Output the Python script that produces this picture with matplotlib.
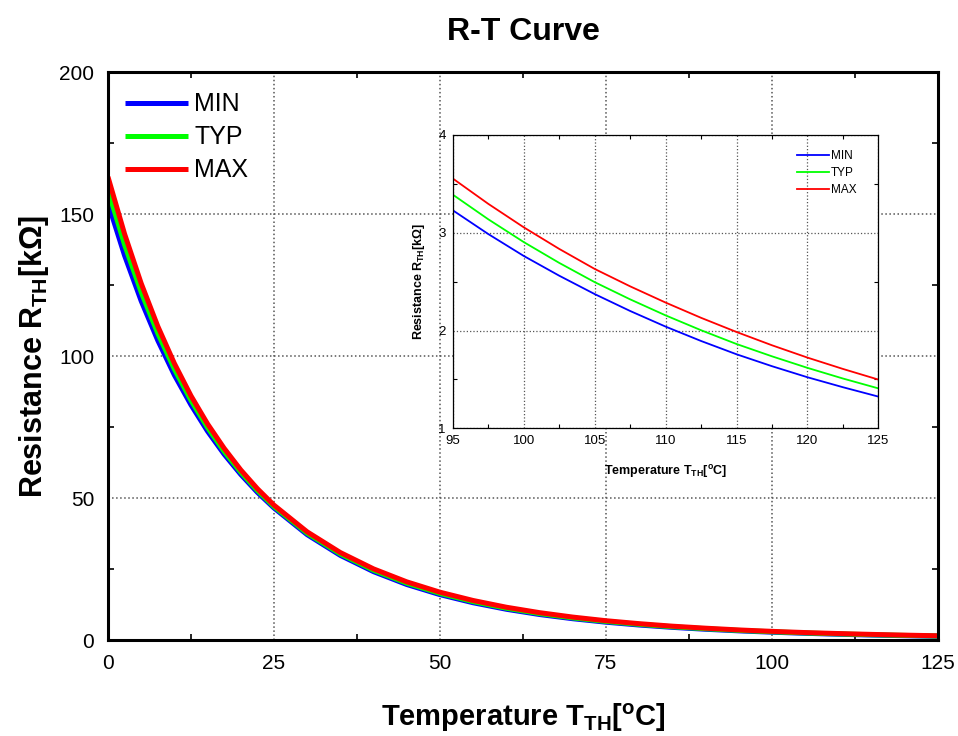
import numpy as np
import matplotlib
matplotlib.use("Agg")
import matplotlib.pyplot as plt
from matplotlib.ticker import MultipleLocator

plt.rcParams['font.family'] = ['Liberation Sans', 'DejaVu Sans']
plt.rcParams['mathtext.fontset'] = 'custom'
plt.rcParams['mathtext.rm'] = 'Liberation Sans:bold'
plt.rcParams['mathtext.bf'] = 'Liberation Sans:bold'
plt.rcParams['mathtext.it'] = 'Liberation Sans:bold'

# temperature [degC] and resistance [kOhm]
temp = [0, 2.5, 5, 7.5, 10, 12.5, 15, 17.5, 20, 22.5, 25, 30, 35, 40, 45, 50,
        55, 60, 65, 70, 75, 80, 85, 90, 95, 97.5, 100, 102.5, 105, 107.5,
        110, 112.5, 115, 117.5, 120, 122.5, 125]
r_min = [153.9, 135.4, 119.4, 105.5, 93.3, 82.8, 73.5, 65.4, 58.3, 52.0, 46.5,
         37.1, 29.8, 24.07, 19.55, 15.98, 13.12, 10.83, 8.98, 7.50, 6.28, 5.28,
         4.46, 3.79, 3.23, 2.987, 2.763, 2.561, 2.373, 2.200, 2.040, 1.893,
         1.757, 1.635, 1.522, 1.420, 1.324]
r_typ = [158.5, 139.2, 122.5, 108.0, 95.4, 84.4, 74.8, 66.4, 59.1, 52.65, 47.0,
         37.6, 30.3, 24.56, 20.02, 16.41, 13.52, 11.19, 9.31, 7.79, 6.54, 5.52,
         4.67, 3.98, 3.39, 3.138, 2.905, 2.692, 2.495, 2.319, 2.155, 2.003,
         1.862, 1.736, 1.618, 1.509, 1.408]
r_max = [163.1, 143.0, 125.6, 110.5, 97.4, 86.0, 76.1, 67.5, 59.9, 53.3, 47.5,
         38.1, 30.8, 25.05, 20.49, 16.84, 13.92, 11.55, 9.64, 8.08, 6.80, 5.76,
         4.88, 4.17, 3.555, 3.296, 3.056, 2.835, 2.630, 2.452, 2.286, 2.130,
         1.985, 1.849, 1.723, 1.607, 1.498]

labels = ['MIN', 'TYP', 'MAX']
colors = ['#0000ff', '#00ff00', '#ff0000']
series = [r_min, r_typ, r_max]

fig = plt.figure(figsize=(9.58, 7.36), dpi=100)

ax = fig.add_axes([0.1127, 0.1304, 0.8664, 0.7717])
for s, c, l in zip(series, colors, labels):
    ax.plot(temp, s, color=c, lw=3.6, label=l, solid_capstyle='butt',
            solid_joinstyle='round')
ax.set_xlim(0, 125)
ax.set_ylim(0, 200)
ax.xaxis.set_major_locator(MultipleLocator(25))
ax.xaxis.set_minor_locator(MultipleLocator(12.5))
ax.yaxis.set_major_locator(MultipleLocator(50))
ax.yaxis.set_minor_locator(MultipleLocator(25))
ax.tick_params(which='both', direction='in', top=True, right=True,
               labelsize=15, width=1.2)
ax.tick_params(which='major', length=0, pad=10)
ax.tick_params(which='minor', length=4)
ax.grid(True, which='major', linestyle=':', color='#555555', lw=1.1)
for sp in ax.spines.values():
    sp.set_linewidth(2.2)
ax.set_title('R-T Curve', fontsize=23, fontweight='bold', pad=23)
ax.set_xlabel(r'Temperature T$_{\mathrm{TH}}$[$^{\mathrm{o}}$C]',
              fontsize=21, fontweight='bold', labelpad=21)
ax.set_ylabel(r'Resistance R$_{\mathrm{TH}}$[k$\Omega$]',
              fontsize=22, fontweight='bold', labelpad=6)
ax.legend(loc='upper left', frameon=False, fontsize=18, handlelength=2.5,
          handletextpad=0.25, labelspacing=0.36, borderaxespad=0.3,
          bbox_to_anchor=(0, 0.995))

# zoomed inset, 95-125 degC
ins = fig.add_axes([0.4726, 0.4181, 0.4443, 0.3985])
ins.set_facecolor('white')
for s, c, l in zip(series, colors, labels):
    ins.plot(temp, s, color=c, lw=1.3, label=l)
ins.set_xlim(95, 125)
ins.set_ylim(1, 4)
ins.xaxis.set_major_locator(MultipleLocator(5))
ins.xaxis.set_minor_locator(MultipleLocator(2.5))
ins.yaxis.set_major_locator(MultipleLocator(1))
ins.yaxis.set_minor_locator(MultipleLocator(0.5))
ins.tick_params(which='both', direction='in', top=True, right=True,
                labelsize=9.5, width=0.8)
ins.tick_params(which='major', length=0, pad=5)
ins.tick_params(which='minor', length=3)
ins.grid(True, which='major', linestyle=':', color='#555555', lw=0.9)
for sp in ins.spines.values():
    sp.set_linewidth(0.9)
ins.set_xlabel(r'Temperature T$_{\mathrm{TH}}$[$^{\mathrm{o}}$C]',
               fontsize=9, fontweight='bold', labelpad=11)
ins.set_ylabel(r'Resistance R$_{\mathrm{TH}}$[k$\Omega$]',
               fontsize=9, fontweight='bold', labelpad=8)
ins.legend(loc='upper right', frameon=False, fontsize=8.5, handlelength=2.7,
           handletextpad=0.2, labelspacing=0.42, borderaxespad=0.9,
           bbox_to_anchor=(0.985, 1.0))

fig.savefig('out.png', dpi=100)
